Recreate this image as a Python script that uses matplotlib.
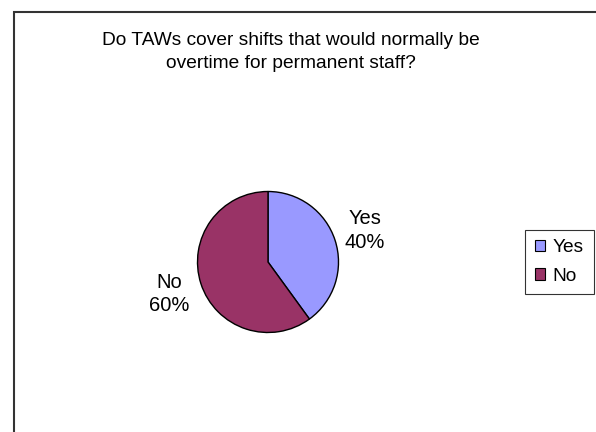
import numpy as np
import matplotlib.pyplot as plt
from matplotlib.patches import Patch, Rectangle

plt.rcParams['font.family'] = ['Liberation Sans', 'DejaVu Sans']

# Data
categories = ['Yes', 'No']
shares = [40, 60]
colors = ['#9999FF', '#993366']
title = 'Do TAWs cover shifts that would normally be\novertime for permanent staff?'

W, H = 596, 432
fig = plt.figure(figsize=(W / 100, H / 100), dpi=100)

# pie axes (square in pixels), centred at (268, 262) px, radius ~70.5 px
cx, cy, r = 268, 262, 70.5
ax = fig.add_axes([(cx - r) / W, (H - cy - r) / H, 2 * r / W, 2 * r / H])
wedges, _ = ax.pie(shares, colors=colors, startangle=90, counterclock=False,
                   wedgeprops=dict(edgecolor='black', linewidth=1.0))
ax.set_xlim(-1, 1)
ax.set_ylim(-1, 1)

# data labels outside the pie
label_dist = [1.44, 1.47]
for w, cat, val, d in zip(wedges, categories, shares, label_dist):
    ang = np.deg2rad((w.theta1 + w.theta2) / 2)
    ax.text(d * np.cos(ang), d * np.sin(ang), f'{cat}\n{val}%',
            ha='center', va='center', fontsize=14.5, linespacing=1.32,
            clip_on=False)

fig.text(291 / W, 1 - 52 / H, title, ha='center', va='center',
         fontsize=13.8, linespacing=1.42)

handles = [Patch(facecolor=c, edgecolor='black', linewidth=0.8) for c in colors]
leg = fig.legend(handles, categories, loc='upper left',
                 bbox_to_anchor=(525 / W, 1 - 229.5 / H), fontsize=13.8,
                 frameon=True, fancybox=False, edgecolor='black',
                 handlelength=0.55, handleheight=0.55, handletextpad=0.4,
                 borderpad=0.5, labelspacing=0.6, borderaxespad=0)
leg.get_frame().set_linewidth(0.8)

# chart-area border (only top/left visible in the crop)
fig.patches.append(Rectangle((14 / W, -0.1), 1.0, (H - 12) / H + 0.1,
                             transform=fig.transFigure, fill=False,
                             edgecolor='#333333', linewidth=1.5))

fig.savefig('out.png', dpi=100)
